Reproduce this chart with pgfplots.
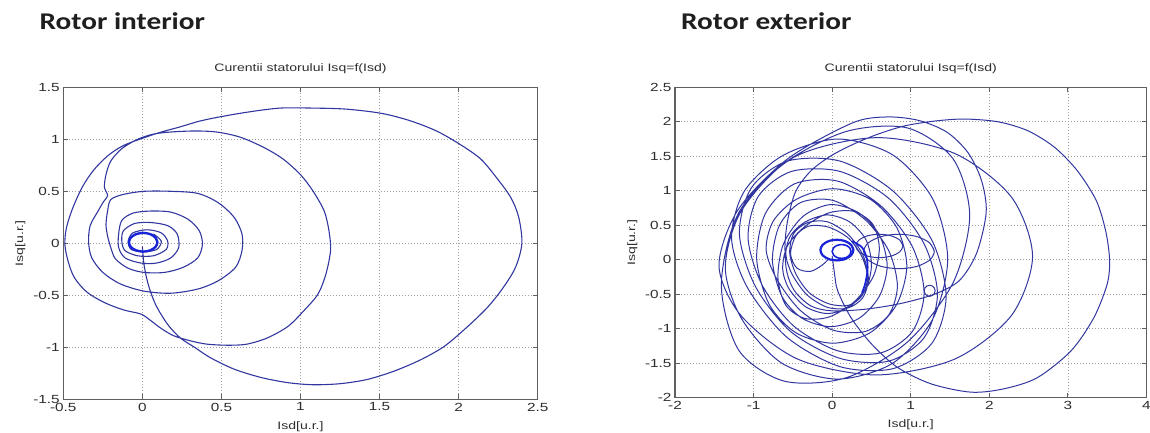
\documentclass[border=0pt]{standalone}
\usepackage{fontspec}
\setmainfont{Liberation Sans}[FakeStretch=1.3]
\newfontfamily\titlefont{Carlito}[FakeStretch=1.22]
\usepackage{pgfplots}
\pgfplotsset{compat=1.18}
\definecolor{mblue}{RGB}{50,55,160}
\definecolor{tblue}{RGB}{25,35,215}
\definecolor{axgray}{RGB}{95,95,95}
\definecolor{txgray}{RGB}{45,45,45}
\pgfplotsset{mstyle/.style={
  scale only axis, anchor=south west,
  axis line style={line width=1.2pt, axgray},
  every tick/.style={line width=0.9pt, axgray},
  major tick length=5pt,
  tick align=inside,
  grid=major,
  major grid style={line width=0.7pt, dash pattern=on 0.7pt off 2.3pt, gray!75},
  /pgf/number format/assume math mode=true,
  tick label style={font=\fontsize{11.8}{12}\selectfont, txgray},
  label style={font=\fontsize{10.8}{12}\selectfont, txgray},
  title style={font=\fontsize{10.8}{12}\selectfont, txgray, at={(axis description cs:0.5,1.039)}, anchor=center},
  xlabel style={at={(axis description cs:0.5,-0.0865)}, anchor=center},
  ylabel style={at={(axis description cs:-0.0906,0.5)}, anchor=center},
  title={Curentii statorului Isq=f(Isd)},
  xlabel={Isd[u.r.]}, ylabel={Isq[u.r.]},
}}
\begin{document}
\begin{tikzpicture}[x=1pt,y=1pt]
\path[use as bounding box] (0,0) rectangle (1150,433);
\node[anchor=base west, inner sep=0pt, text=black!88] at (39.5,403.5) {\titlefont\bfseries\fontsize{24}{24}\selectfont Rotor interior};
\node[anchor=base west, inner sep=0pt, text=black!88] at (681,403.5) {\titlefont\bfseries\fontsize{24}{24}\selectfont Rotor exterior};

\begin{axis}[mstyle, at={(63.3pt,33.7pt)}, width=474.4pt, height=312pt,
  xmin=-0.5, xmax=2.5, ymin=-1.5, ymax=1.5,
  xtick={-0.5,0,0.5,1,1.5,2,2.5}, ytick={-1.5,-1,-0.5,0,0.5,1,1.5}]
\addplot[mblue, line width=1.1pt, smooth, no markers] coordinates {
(0,-0.03) (0.01,-0.2) (0.036,-0.39) (0.084,-0.59) (0.16,-0.78) (0.24,-0.91) (0.33,-1.0) (0.43,-1.10) (0.58,-1.21) (0.75,-1.29) (0.92,-1.34) (1.08,-1.36) (1.25,-1.35) (1.42,-1.31) (1.59,-1.23) (1.76,-1.12) (1.91,-0.99) (2.05,-0.81) (2.18,-0.62) (2.28,-0.43) (2.36,-0.23) (2.40,0.0) (2.38,0.25) (2.33,0.44) (2.24,0.63) (2.14,0.81) (2.01,0.95) (1.86,1.08) (1.69,1.18) (1.51,1.25) (1.29,1.29) (1.08,1.30) (0.87,1.30) (0.66,1.26) (0.47,1.21) (0.35,1.17) (0.24,1.12) (0.12,1.07) (0.02,1.02) (-0.12,0.94) (-0.22,0.84) (-0.31,0.70) (-0.38,0.54) (-0.44,0.34) (-0.48,0.15) (-0.49,-0.01) (-0.47,-0.17) (-0.43,-0.33) (-0.35,-0.47) (-0.24,-0.57) (-0.12,-0.64) (-0.01,-0.68) (0.05,-0.74) (0.12,-0.82) (0.2,-0.89) (0.31,-0.94) (0.41,-0.97) (0.54,-0.98) (0.66,-0.97) (0.79,-0.91) (0.92,-0.80) (1.02,-0.65) (1.11,-0.49) (1.16,-0.30) (1.19,-0.07) (1.18,0.12) (1.15,0.31) (1.08,0.50) (1.0,0.66) (0.89,0.81) (0.77,0.92) (0.62,1.02) (0.47,1.07) (0.33,1.08) (0.18,1.07) (0.07,1.05) (-0.03,1.0) (-0.13,0.91) (-0.2,0.79) (-0.23,0.66) (-0.24,0.54) (-0.22,0.46) (-0.25,0.39) (-0.28,0.31) (-0.33,0.17) (-0.34,0.01) (-0.32,-0.14) (-0.25,-0.28) (-0.14,-0.39) (0.01,-0.46) (0.18,-0.48) (0.35,-0.44) (0.48,-0.36) (0.59,-0.23) (0.63,-0.07) (0.63,0.09) (0.58,0.25) (0.48,0.39) (0.35,0.48) (0.18,0.50) (0.01,0.50) (-0.12,0.47) (-0.2,0.42) (-0.22,0.31) (-0.23,0.18) (-0.22,0.07) (-0.20,-0.04) (-0.17,-0.15) (-0.09,-0.24) (0.01,-0.28) (0.14,-0.28) (0.26,-0.23) (0.35,-0.14) (0.38,-0.01) (0.36,0.12) (0.29,0.23) (0.18,0.30) (0.05,0.31) (-0.06,0.29) (-0.13,0.22) (-0.15,0.09) (-0.15,-0.04) (-0.11,-0.14) (-0.01,-0.19) (0.09,-0.19) (0.18,-0.14) (0.23,-0.04) (0.22,0.09) (0.16,0.17) (0.05,0.2) (-0.05,0.19) (-0.12,0.12) (-0.13,0.02) (-0.11,-0.07) (-0.03,-0.12) (0.07,-0.12) (0.15,-0.06) (0.16,0.02) (0.12,0.10) (0.03,0.13) (-0.06,0.1) (-0.09,0.02) (-0.07,-0.06) (0.01,-0.08) (0.09,-0.06) (0.12,0.02) (0.07,0.09)
};
\addplot[tblue, line width=2.4pt, smooth, no markers] coordinates {
(0.095,0.01) (0.083,0.055) (0.05,0.088) (0.005,0.1) (-0.04,0.088) (-0.073,0.055) (-0.085,0.01) (-0.073,-0.035) (-0.04,-0.068) (0.005,-0.08) (0.05,-0.068) (0.083,-0.035) (0.095,0.01) (0.083,0.055)
};
\end{axis}

\begin{axis}[mstyle, at={(675pt,35.3pt)}, width=471.5pt, height=310.4pt,
  xmin=-2, xmax=4, ymin=-2, ymax=2.5,
  xtick={-2,-1,0,1,2,3,4}, ytick={-2,-1.5,-1,-0.5,0,0.5,1,1.5,2,2.5}]
\addplot[mblue, line width=1pt, smooth, no markers] coordinates {
(0.0,0.05) (0.03,-0.2) (0.07,-0.45) (0.24,-0.84) (0.5,-1.22) (0.83,-1.56) (1.26,-1.8) (1.77,-1.92) (2.19,-1.87) (2.61,-1.71) (3.04,-1.32) (3.33,-0.84) (3.5,-0.35) (3.53,0.0) (3.48,0.42) (3.36,0.86) (3.12,1.29) (2.83,1.63) (2.49,1.87) (2.11,2.0) (1.68,2.04) (1.3,2.01) (0.92,1.94) (0.58,1.82) (0.28,1.68) (-0.01,1.51) (-0.27,1.29) (-0.46,1.0) (-0.56,0.61) (-0.6,0.23) (-0.58,-0.16) (-0.48,-0.45) (-0.27,-0.67) (-0.01,-0.74) (0.4,-0.72) (0.85,-0.64) (1.3,-0.5) (1.62,-0.3) (1.84,0.1) (1.96,0.69)
(1.90,1.15) (1.73,1.55) (1.46,1.85) (1.10,2.02) (0.69,2.07) (0.25,1.98) (-0.57,1.46) (-1.20,0.72) (-1.44,-0.09)
(-1.16,-0.81) (-0.44,-1.44) (0.56,-1.67) (1.56,-1.44) (2.28,-0.81) (2.55,0.05) (2.28,0.91) (1.56,1.54) (0.56,1.77) (-0.48,1.49) (-1.18,0.70) (-1.41,-0.36)
(-1.19,-1.31) (-0.61,-1.76) (0.18,-1.71) (0.96,-1.19) (1.54,-0.33) (1.75,0.64) (1.54,1.46) (0.96,1.91) (0.18,1.86) (-0.62,1.39) (-1.17,0.68) (-1.36,-0.12)
(-1.15,-0.86) (-0.64,-1.50) (0.07,-1.73) (0.77,-1.50) (1.28,-0.86) (1.47,0.01) (1.28,0.88) (0.77,1.52) (0.07,1.75) (-0.63,1.51) (-1.12,0.99) (-1.28,0.31)
(-1.08,-0.40) (-0.58,-1.12) (0.10,-1.55) (0.77,-1.58) (1.27,-1.21) (1.45,-0.53) (1.27,0.28) (0.77,1.0) (0.10,1.43) (-0.57,1.43) (-1.03,1.04) (-1.18,0.37)
(-0.98,-0.38) (-0.53,-1.04) (0.10,-1.43) (0.72,-1.47) (1.17,-1.13) (1.34,-0.50) (1.17,0.23) (0.72,0.89) (0.10,1.28) (-0.52,1.28) (-0.94,0.92) (-1.07,0.31)
(-0.89,-0.37) (-0.49,-0.96) (0.07,-1.32) (0.62,-1.35) (1.02,-1.04) (1.17,-0.48) (1.02,0.19) (0.62,0.78) (0.07,1.14) (-0.48,1.10) (-0.85,0.67) (-0.96,0.01)
(-0.80,-0.65) (-0.46,-1.06) (0.01,-1.21) (0.48,-1.06) (0.82,-0.65) (0.95,-0.09) (0.82,0.47) (0.48,0.88) (0.01,1.03) (-0.45,0.88) (-0.75,0.56) (-0.84,0.14)
(-0.70,-0.29) (-0.40,-0.74) (0.01,-1.02) (0.42,-1.04) (0.72,-0.80) (0.83,-0.38) (0.72,0.13) (0.42,0.58) (0.01,0.86) (-0.40,0.83) (-0.67,0.50) (-0.76,-0.01)
(-0.64,-0.53) (-0.38,-0.85) (-0.02,-0.97) (0.34,-0.85) (0.60,-0.53) (0.70,-0.09) (0.60,0.36) (0.34,0.68) (-0.02,0.80) (-0.37,0.63) (-0.62,0.23) (-0.69,-0.26)
(-0.59,-0.66) (-0.35,-0.85) (-0.04,-0.83) (0.28,-0.61) (0.52,-0.25) (0.60,0.16) (0.52,0.51) (0.28,0.70) (-0.04,0.68) (-0.35,0.48) (-0.57,0.20) (-0.63,-0.13)
(-0.55,-0.42) (-0.34,-0.68) (-0.06,-0.78) (0.22,-0.68) (0.43,-0.42) (0.50,-0.07) (0.43,0.29) (0.22,0.55) (-0.06,0.65) (-0.34,0.55) (-0.53,0.35) (-0.59,0.08)
(-0.51,-0.21) (-0.32,-0.51) (-0.06,-0.69) (0.20,-0.70) (0.39,-0.55) (0.46,-0.27) (0.39,0.07) (0.20,0.37) (-0.06,0.55) (-0.31,0.54) (-0.49,0.38) (-0.54,0.10)
(-0.46,-0.21) (-0.29,-0.48) (-0.04,-0.64) (0.21,-0.66) (0.38,-0.52) (0.45,-0.26) (0.38,0.04) (0.21,0.31) (-0.04,0.47) (-0.29,0.49) (-0.46,0.35) (-0.53,0.09)
(-0.45,-0.12) (-0.28,-0.17) (-0.13,-0.08) (-0.045,0.01)
};
\addplot[mblue, line width=1pt, smooth, no markers] coordinates {
(1.3,0.12) (1.24,0.245) (1.075,0.337) (0.85,0.37) (0.625,0.337) (0.46,0.245) (0.4,0.12) (0.46,-0.005) (0.625,-0.097) (0.85,-0.13) (1.075,-0.097) (1.24,-0.005) (1.3,0.12) (1.24,0.245)
};
\addplot[mblue, line width=1pt, smooth, no markers] coordinates {
(0.9,0.2) (0.86,0.285) (0.75,0.347) (0.6,0.37) (0.45,0.347) (0.34,0.285) (0.3,0.2) (0.34,0.115) (0.45,0.053) (0.6,0.03) (0.75,0.053) (0.86,0.115) (0.9,0.2) (0.86,0.285)
};
\addplot[mblue, line width=1pt, smooth, no markers] coordinates {
(1.31,-0.45) (1.30,-0.41) (1.275,-0.381) (1.24,-0.37) (1.205,-0.381) (1.18,-0.41) (1.17,-0.45) (1.18,-0.49) (1.205,-0.519) (1.24,-0.53) (1.275,-0.519) (1.30,-0.49) (1.31,-0.45) (1.30,-0.41)
};
\addplot[tblue, line width=1.8pt, smooth, no markers] coordinates {
(0.25,0.27) (0.38,0.18) (0.44,0.02) (0.45,-0.15) (0.42,-0.35) (0.38,-0.48)
};
\addplot[tblue, line width=2.2pt, smooth, no markers] coordinates {
(0.27,0.14) (0.242,0.215) (0.165,0.27) (0.06,0.29) (-0.045,0.27) (-0.122,0.215) (-0.15,0.14) (-0.122,0.065) (-0.045,0.01) (0.06,-0.01) (0.165,0.01) (0.242,0.065) (0.27,0.14) (0.242,0.215)
};
\addplot[tblue, line width=1.6pt, smooth, no markers] coordinates {
(0.24,0.12) (0.224,0.17) (0.18,0.207) (0.12,0.22) (0.06,0.207) (0.016,0.17) (0,0.12) (0.016,0.07) (0.06,0.033) (0.12,0.02) (0.18,0.033) (0.224,0.07) (0.24,0.12) (0.224,0.17)
};
\end{axis}
\end{tikzpicture}
\end{document}
